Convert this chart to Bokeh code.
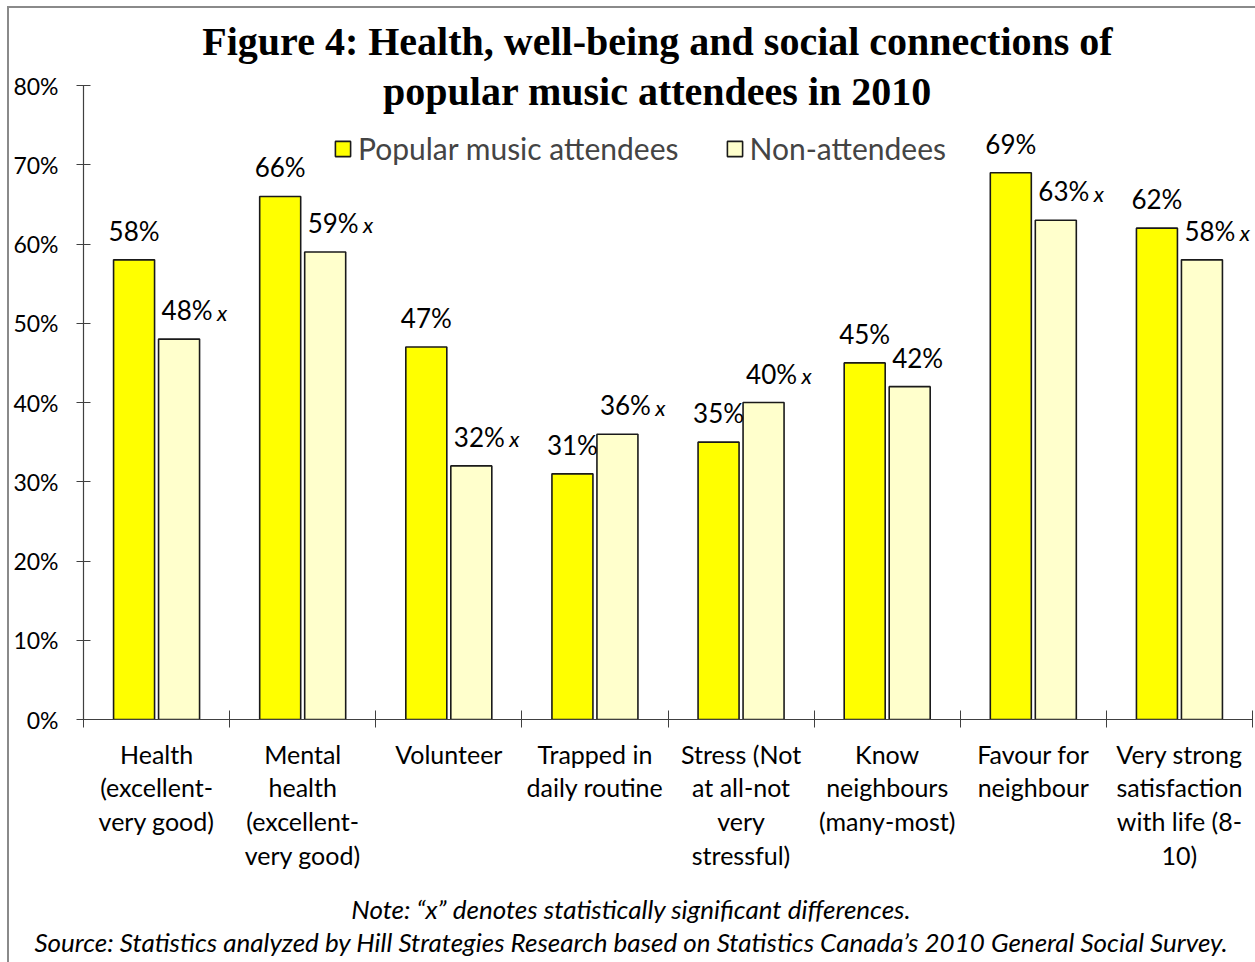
from bokeh.plotting import figure
from bokeh.models import (ColumnDataSource, Range1d, FixedTicker, Label, Legend,
                          LegendItem, LinearAxis, Div)
from bokeh.layouts import column
from bokeh.transform import dodge
from bokeh.core.properties import value
from bokeh.embed import file_html
from bokeh.resources import INLINE

# ---------------- data ----------------
categories = [
    "Health\n(excellent-\nvery good)",
    "Mental\nhealth\n(excellent-\nvery good)",
    "Volunteer",
    "Trapped in\ndaily routine",
    "Stress (Not\nat all-not\nvery\nstressful)",
    "Know\nneighbours\n(many-most)",
    "Favour for\nneighbour",
    "Very strong\nsatisfaction\nwith life (8-\n10)",
]
attendees = [58, 66, 47, 31, 35, 45, 69, 62]
non_attendees = [48, 59, 32, 36, 40, 42, 63, 58]
significant = [True, True, True, True, True, False, True, True]
y_ticks = [0, 10, 20, 30, 40, 50, 60, 70, 80]
series_names = ["Popular music attendees", "Non-attendees"]
title_lines = ["Figure 4: Health, well-being and social connections of",
               "popular music attendees in 2010"]
note_text = "Note: \u201cx\u201d denotes statistically significant differences."
source_text = ("Source: Statistics analyzed by Hill Strategies Research based on "
               "Statistics Canada\u2019s 2010 General Social Survey.")

# ---------------- layout constants ----------------
PAGE_W, PAGE_H = 1255, 962
MARGIN_L, MARGIN_T, BORDER = 7, 6, 2
OX, OY = MARGIN_L + BORDER, MARGIN_T + BORDER   # content origin on page
W = PAGE_W - OX                                  # content width
FIG_BOTTOM_PAGE = 890
H = FIG_BOTTOM_PAGE - OY                         # figure canvas height
FOOT_H = PAGE_H - FIG_BOTTOM_PAGE
FRAME_L_PAGE, FRAME_R_PAGE, FRAME_B_PAGE = 83, 1252, 719
LEFT = FRAME_L_PAGE - OX
RIGHT = (OX + W) - FRAME_R_PAGE
BOTTOM = FIG_BOTTOM_PAGE - FRAME_B_PAGE
FRAME_H = FRAME_B_PAGE - OY
PX_PER_PCT = (719 - 85) / 80.0
Y_END = FRAME_H / PX_PER_PCT
n = len(categories)
CAT_PX = (FRAME_R_PAGE - FRAME_L_PAGE) / n
OFF = 22.5 / CAT_PX
BAR_W = 41 / CAT_PX
FONT = "Lato"
AXIS_COLOR = "#404040"

xs = [i + 0.5 for i in range(n)]
src = ColumnDataSource(dict(
    x=xs,
    att=attendees,
    non=non_attendees,
    att_lab=[f"{v}%" for v in attendees],
    non_lab=[f"{v}%" for v in non_attendees],
    sig=["x" if s else "" for s in significant],
))

p = figure(width=W, height=H, x_range=Range1d(0, n), y_range=Range1d(0, Y_END),
           x_axis_type=None, y_axis_type=None, toolbar_location=None,
           output_backend="svg", min_border_left=LEFT, min_border_right=RIGHT,
           min_border_top=0, min_border_bottom=BOTTOM)
p.outline_line_color = None
p.xgrid.visible = False
p.ygrid.visible = False
p.background_fill_color = "white"
p.border_fill_color = "white"

# y axis
yaxis = LinearAxis(ticker=FixedTicker(ticks=y_ticks),
                   major_label_overrides={t: f"{t}%" for t in y_ticks},
                   bounds=(0, 80))
yaxis.major_tick_in = 7
yaxis.major_tick_out = 7
yaxis.minor_tick_line_color = None
yaxis.axis_line_color = AXIS_COLOR
yaxis.axis_line_width = 1.2
yaxis.major_tick_line_color = AXIS_COLOR
yaxis.major_label_text_font = FONT
yaxis.major_label_text_font_size = "23px"
yaxis.major_label_text_color = "black"
yaxis.major_label_standoff = 18
p.add_layout(yaxis, "left")

# x axis: labels at category centres, ticks at category boundaries
xaxis = LinearAxis(ticker=FixedTicker(ticks=xs, minor_ticks=list(range(n + 1))),
                   major_label_overrides={x: c for x, c in zip(xs, categories)})
xaxis.major_tick_line_color = None
xaxis.major_tick_in = 0
xaxis.major_tick_out = 0
xaxis.minor_tick_in = 9
xaxis.minor_tick_out = 8
xaxis.minor_tick_line_color = AXIS_COLOR
xaxis.axis_line_color = AXIS_COLOR
xaxis.axis_line_width = 1.2
xaxis.major_label_text_font = FONT
xaxis.major_label_text_font_size = "25px"
xaxis.major_label_text_color = "black"
xaxis.major_label_text_line_height = 1.13
xaxis.major_label_standoff = 11
p.add_layout(xaxis, "below")

# bars
r1 = p.vbar(x=dodge("x", -OFF), top="att", width=BAR_W, source=src,
            fill_color="#FFFF00", line_color="#1a1a1a", line_width=1.6)
r2 = p.vbar(x=dodge("x", OFF), top="non", width=BAR_W, source=src,
            fill_color="#FFFFCC", line_color="#1a1a1a", line_width=1.6)

# value labels
p.text(x=dodge("x", -OFF), y="att", text="att_lab", source=src, y_offset=-29,
       text_align="center", text_baseline="middle", text_font=value(FONT),
       text_font_size="26px", text_color="black")
p.text(x=dodge("x", OFF + 8 / CAT_PX), y="non", text="non_lab", source=src, y_offset=-29,
       text_align="center", text_baseline="middle", text_font=value(FONT),
       text_font_size="26px", text_color="black")
p.text(x=dodge("x", OFF + 43 / CAT_PX), y="non", text="sig", source=src, y_offset=-27,
       text_align="center", text_baseline="middle", text_font=value(FONT),
       text_font_style="italic", text_font_size="22px", text_color="black")

# legend
legend = Legend(items=[LegendItem(label=series_names[0], renderers=[r1]),
                       LegendItem(label=series_names[1], renderers=[r2])],
                orientation="horizontal", location=(333 - FRAME_L_PAGE, 553))
legend.glyph_width = 19
legend.glyph_height = 19
legend.label_text_font = FONT
legend.label_text_font_size = "30px"
legend.label_standoff = 6
legend.spacing = 46
legend.padding = 0
legend.margin = 0
legend.border_line_color = None
legend.background_fill_alpha = 0
p.add_layout(legend)

# title (two lines, inside the plot area)
for txt, base in zip(title_lines, [41, 91]):
    p.add_layout(Label(x=657 - FRAME_L_PAGE, y=FRAME_B_PAGE - base,
                       x_units="screen", y_units="screen",
                       text=txt, text_align="center", text_baseline="alphabetic",
                       text_font="Liberation Serif", text_font_style="bold",
                       text_font_size="40px", text_color="black"))

# footer (note + source), centred at page x = 631
FOOT_CENTER = 631
foot_w = 2 * (FOOT_CENTER - OX)
footer = Div(text=f"{note_text}<br>{source_text}", width=foot_w, height=FOOT_H,
             margin=0,
             styles={"text-align": "center", "font-family": FONT,
                     "font-style": "italic", "font-size": "26px",
                     "line-height": "33px", "padding-top": "3px",
                     "color": "black", "white-space": "nowrap",
                     "box-sizing": "border-box"})

layout = column(p, footer, spacing=0, width=W + BORDER, height=H + FOOT_H + BORDER,
                styles={"margin-left": f"{MARGIN_L}px", "margin-top": f"{MARGIN_T}px",
                        "border-left": f"{BORDER}px solid #8a8a8a",
                        "border-top": f"{BORDER}px solid #8a8a8a",
                        "box-sizing": "border-box",
                        "background-color": "white"})

open("out.html", "w").write(file_html(layout, INLINE))
